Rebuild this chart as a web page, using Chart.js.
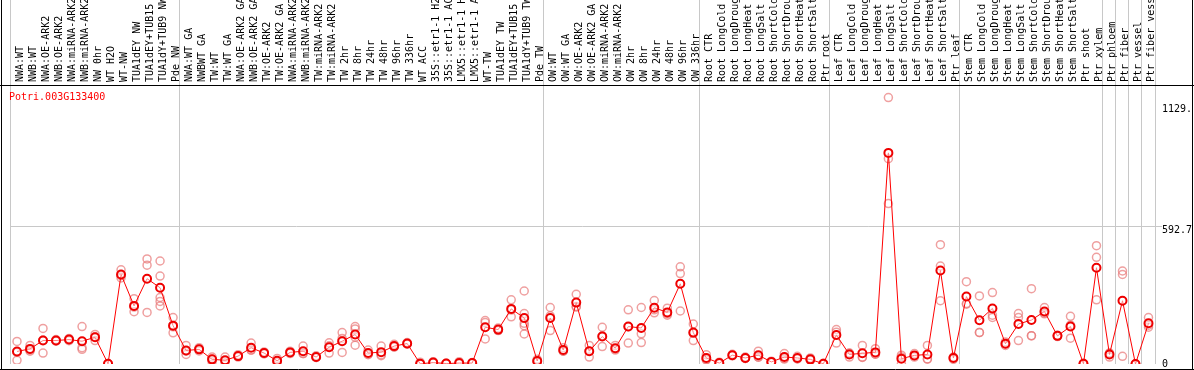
<!DOCTYPE html>
<html>
<head>
<meta charset="utf-8">
<script src="https://cdn.jsdelivr.net/npm/chart.js@4"></script>
<style>
  html, body { margin: 0; padding: 0; background: #fff; }
  #wrap { width: 1194px; height: 370px; }
</style>
</head>
<body>
<div id="wrap"><canvas id="chart" width="1194" height="370"></canvas></div>
<script>
const geneName = "Potri.003G133400";

// Sample names (cut to 14 characters as shown)
const sampleLabels = [
  "NWA:WT", "NWB:WT", "NWA:OE-ARK2", "NWB:OE-ARK2", "NWA:miRNA-ARK2", "NWB:miRNA-ARK2",
  "NW 0hr", "WT H2O", "WT-NW", "TUA1dEY NW", "TUA1dEY+TUB15", "TUA1dY+TUB9 NW", "Pde NW",
  "NWA:WT GA", "NWBWT GA", "TW:WT", "TW:WT GA", "NWA:OE-ARK2 GA", "NWB:OE-ARK2 GA",
  "TW:OE-ARK2", "TW:OE-ARK2 GA", "NWA:miRNA-ARK2", "NWB:miRNA-ARK2", "TW:miRNA-ARK2",
  "TW:miRNA-ARK2", "TW 2hr", "TW 8hr", "TW 24hr", "TW 48hr", "TW 96hr", "TW 336hr",
  "WT ACC", "35S::etr1-1 H2", "35S::etr1-1 AC", "LMX5::etr1-1 H", "LMX5::etr1-1 A",
  "WT-TW", "TUA1dEY TW", "TUA1dEY+TUB15", "TUA1dY+TUB9 TW", "Pde TW",
  "OW:WT", "OW:WT GA", "OW:OE-ARK2", "OW:OE-ARK2 GA", "OW:miRNA-ARK2", "OW:miRNA-ARK2",
  "OW 2hr", "OW 8hr", "OW 24hr", "OW 48hr", "OW 96hr", "OW 336hr",
  "Root CTR", "Root LongCold", "Root LongDroug", "Root LongHeat", "Root LongSalt",
  "Root ShortCold", "Root ShortDrou", "Root ShortHeat", "Root ShortSalt", "Ptr root",
  "Leaf CTR", "Leaf LongCold", "Leaf LongDroug", "Leaf LongHeat", "Leaf LongSalt",
  "Leaf ShortCold", "Leaf ShortDrou", "Leaf ShortHeat", "Leaf ShortSalt", "Ptr leaf",
  "Stem CTR", "Stem LongCold", "Stem LongDroug", "Stem LongHeat", "Stem LongSalt",
  "Stem ShortCold", "Stem ShortDrou", "Stem ShortHeat", "Stem ShortSalt", "Ptr shoot",
  "Ptr xylem", "Ptr phloem", "Ptr fiber", "Ptr vessel", "Ptr fiber vess"
];

// number of samples in each experiment block
const groupSizes = [13, 28, 12, 10, 10, 11, 1, 1, 1, 1];

// mean expression per sample
const meanValues = [
  54, 65, 101, 101, 105, 98, 115, 1, 385, 250, 367, 328, 165,
  58, 63, 20, 16, 34, 70, 47, 14, 50, 55, 30, 72, 98, 127, 47, 51, 77, 88,
  1, 6, 2, 4, 4, 158, 148, 237, 198, 13,
  198, 60, 264, 55, 118, 68, 161, 155, 242, 222, 345, 135,
  26, 4, 38, 26, 38, 9, 30, 26, 20, 1,
  125, 41, 46, 50, 908, 23, 37, 41, 402, 26,
  290, 188, 239, 87, 172, 189, 226, 121, 161, 1, 414,
  41, 272, 0, 175
];

// individual replicates per sample
const replicateValues = [
  [97, 16, 50], [80, 60, 55], [153, 47, 103], [105, 98, 100], [110, 100, 105],
  [161, 63, 70], [127, 101, 117], [0, 2, 1], [405, 380, 370], [281, 225, 245],
  [452, 425, 222], [443, 378, 286, 269, 250], [200, 134, 160],
  [80, 41, 55], [70, 56, 63], [30, 10, 20], [30, 5, 14], [40, 30, 33], [90, 60, 60],
  [52, 44, 45], [24, 8, 10], [55, 45, 50], [77, 45, 45], [35, 28, 28], [91, 47, 78],
  [135, 50, 110], [161, 151, 81, 115], [60, 40, 42], [77, 40, 36], [85, 72, 74],
  [92, 85, 87], [8, 0, 0], [10, 4, 4], [3, 1, 2], [10, 1, 1], [6, 3, 3],
  [179, 108, 187], [155, 145, 144], [276, 203, 232], [314, 217, 175, 165, 129], [20, 10, 9],
  [243, 144, 207], [70, 55, 55], [300, 245, 247], [80, 30, 55], [158, 75, 121],
  [80, 60, 64], [233, 90, 160], [243, 130, 92], [273, 220, 233], [240, 210, 216],
  [418, 389, 228], [172, 101, 132],
  [40, 20, 18], [8, 2, 2], [42, 35, 37], [30, 24, 24], [55, 30, 29], [12, 6, 9],
  [45, 24, 21], [33, 22, 23], [26, 16, 18], [3, 0, 0],
  [148, 90, 137], [30, 46, 47], [80, 28, 30], [66, 42, 42], [1146, 883, 690],
  [38, 1, 30], [45, 30, 36], [80, 22, 21], [513, 421, 272], [20, 30, 28],
  [354, 257, 260], [293, 135, 136], [307, 200, 210], [80, 95, 86], [217, 200, 101],
  [324, 122, 121], [243, 216, 219], [121, 124, 118], [205, 111, 167], [3, 0, 0],
  [509, 459, 276], [30, 46, 47], [400, 385, 33], [0, 0, 0], [200, 158, 167]
];

const yTickValues = [0, 592.7, 1129.4];
// blank lines push the upper labels just under their line, like the original
const yTickLabels = [["0"], ["", "592.7"], ["", "", "1129."]];

Chart.defaults.font.family = "'DejaVu Sans Mono', monospace";
Chart.defaults.font.size = 10;
Chart.defaults.color = "#000";

// band edges where the vertical group lines go
const groupEdges = [0];
groupSizes.forEach((n) => groupEdges.push(groupEdges[groupEdges.length - 1] + n));

// replicate datasets (k-th replicate of each sample)
const maxReps = Math.max(...replicateValues.map((r) => r.length));
const replicateSets = [];
for (let r = 0; r < maxReps; r++) {
  replicateSets.push({
    label: "rep " + (r + 1),
    data: replicateValues.map((reps) => (reps[r] === undefined ? null : reps[r])),
    showLine: false,
    pointRadius: 4,
    pointBorderWidth: 1.5,
    pointBorderColor: "rgba(232, 120, 120, 0.7)",
    pointBackgroundColor: "rgba(0,0,0,0)",
  });
}

// frame lines and gene name
const framePlugin = {
  id: "frame",
  afterDraw(chart) {
    const ctx = chart.ctx;
    ctx.save();
    ctx.strokeStyle = "#000";
    ctx.lineWidth = 1;
    ctx.beginPath();
    ctx.moveTo(1.5, 0); ctx.lineTo(1.5, 370);
    ctx.moveTo(1192.5, 0); ctx.lineTo(1192.5, 370);
    ctx.moveTo(0, 369.5); ctx.lineTo(1194, 369.5);
    ctx.moveTo(0, 85.5); ctx.lineTo(1194, 85.5);
    ctx.stroke();
    ctx.fillStyle = "#ff0000";
    ctx.font = "10px 'DejaVu Sans Mono', monospace";
    ctx.textBaseline = "top";
    ctx.fillText(geneName, 9, 92);
    ctx.restore();
  },
};

const ctx = document.getElementById("chart").getContext("2d");
const chart = new Chart(ctx, {
  type: "line",
  data: {
    labels: sampleLabels,
    datasets: [
      {
        label: "mean",
        data: meanValues,
        borderColor: "#ff0000",
        borderWidth: 1,
        tension: 0,
        pointRadius: 4,
        pointBorderWidth: 2,
        pointBorderColor: "#ee0000",
        pointBackgroundColor: "rgba(255,255,255,0.5)",
      },
      ...replicateSets,
    ],
  },
  plugins: [framePlugin],
  options: {
    responsive: false,
    animation: false,
    layout: { padding: { left: 10.5, right: 0, top: 0, bottom: 3 } },
    plugins: {
      legend: { display: false },
      tooltip: { enabled: false },
    },
    scales: {
      x: {
        position: "top",
        offset: true,
        grid: {
          offset: true,
          drawOnChartArea: true,
          tickLength: 85,
          color: (c) =>
            c.index === undefined || groupEdges.includes(c.index) ? "#c8c8c8" : "rgba(0,0,0,0)",
        },
        border: { display: true, color: "#000" },
        ticks: {
          autoSkip: false,
          minRotation: 90,
          maxRotation: 90,
          padding: -82,
          labelOffset: 15,
        },
        afterFit: (scale) => {
          scale.height = 85;
        },
      },
      y: {
        position: "right",
        min: 0,
        max: 1200,
        afterBuildTicks: (scale) => {
          scale.ticks = yTickValues.map((v) => ({ value: v }));
        },
        grid: {
          tickLength: 7,
          color: (c) => (c.index === 1 ? "#c8c8c8" : "rgba(0,0,0,0)"),
        },
        border: { display: false },
        ticks: {
          padding: 0,
          font: { lineHeight: 0.8 },
          callback: (value, index) => yTickLabels[index],
        },
        afterFit: (scale) => {
          scale.width = 39;
        },
      },
    },
  },
});
</script>
</body>
</html>
